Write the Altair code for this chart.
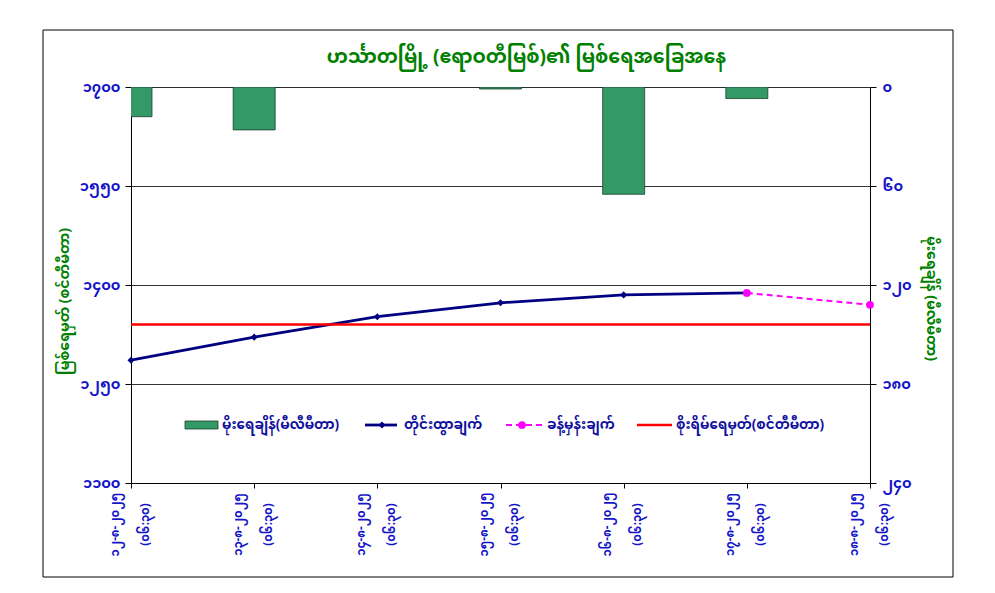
import altair as alt
import pandas as pd

# ---------------- data ----------------
dates = ["၁၂-၈-၂၀၂၅", "၁၃-၈-၂၀၂၅", "၁၄-၈-၂၀၂၅", "၁၅-၈-၂၀၂၅",
         "၁၆-၈-၂၀၂၅", "၁၇-၈-၂၀၂၅", "၁၈-၈-၂၀၂၅"]
time_label = "(၀၆:၃၀)"
x_labels = [d + "|" + time_label for d in dates]

rain_mm = [18, 26, 0, 1.2, 65, 7, None]
level_cm = [1286, 1321, 1352, 1373, 1385, 1388, None]
forecast_cm = [None, None, None, None, None, 1388, 1370]
danger_cm = 1340

left_ticks = [1100, 1250, 1400, 1550, 1700]
left_tick_text = ["၁၁၀၀", "၁၂၅၀", "၁၄၀၀", "၁၅၅၀", "၁၇၀၀"]
right_ticks = [0, 60, 120, 180, 240]
right_tick_text = ["၀", "၆၀", "၁၂၀", "၁၈၀", "၂၄၀"]

title_text = "ဟင်္သာတမြို့ (ဧရာဝတီမြစ်)၏ မြစ်ရေအခြေအနေ"
left_title = "မြစ်ရေမှတ် (စင်တီမီတာ)"
right_title = "မိုးရေချိန် (မီလီမီတာ)"
legend_names = ["မိုးရေချိန်(မီလီမီတာ)", "တိုင်းထွာချက်", "ခန့်မှန်းချက်",
                "စိုးရိမ်ရေမှတ်(စင်တီမီတာ)"]

# ---------------- styling ----------------
FONT = "Noto Sans Myanmar, Padauk, Myanmar Text, Noto Sans, sans-serif"
BLUE = "#1414C8"
LEGEND_BLUE = "#10109E"
GREEN = "#008000"
BAR_GREEN = "#339966"
NAVY = "#000080"
MAGENTA = "#FF00FF"
RED = "#FF0000"


def tick_expr(values, texts):
    expr = "''"
    for v, t in reversed(list(zip(values, texts))):
        expr = f"datum.value == {v} ? '{t}' : ({expr})"
    return expr


df = pd.DataFrame({
    "label": x_labels,
    "rain": rain_mm,
    "level": level_cm,
    "forecast": forecast_cm,
})
danger_df = pd.DataFrame({"danger": [danger_cm]})

x_enc = alt.X(
    "label:N",
    sort=x_labels,
    scale=alt.Scale(type="point", domain=x_labels, padding=0),
    axis=alt.Axis(
        title=None,
        labelExpr="split(datum.label, '|')",
        labelAngle=-90,
        labelAlign="center",
        labelBaseline="middle",
        labelLineHeight=30,
        labelOffset=-16,
        labelPadding=36,
        labelColor=BLUE,
        labelFont=FONT,
        labelFontSize=11.5,
        labelFontWeight="bold",
        labelOverlap=False,
        labelBound=False,
        tickColor="black",
        tickSize=5,
        domainColor="black",
        grid=False,
    ),
)

left_scale = alt.Scale(domain=[1100, 1700], nice=False, zero=False)
left_axis = alt.Axis(
    orient="left",
    values=left_ticks,
    labelExpr=tick_expr(left_ticks, left_tick_text),
    labelColor=BLUE,
    labelFont=FONT,
    labelFontSize=14.5,
    labelFontWeight="bold",
    labelPadding=5,
    tickColor="black",
    tickSize=6,
    domainColor="black",
    grid=True,
    gridColor="black",
    gridWidth=0.8,
    title=left_title,
    titleColor=GREEN,
    titleFont=FONT,
    titleFontSize=14,
    titleFontWeight="bold",
    titlePadding=8,
    titleY=214,
)

right_axis = alt.Axis(
    orient="right",
    values=right_ticks,
    labelExpr=tick_expr(right_ticks, right_tick_text),
    labelColor=BLUE,
    labelFont=FONT,
    labelFontSize=14.5,
    labelFontWeight="bold",
    labelPadding=6,
    tickColor="black",
    tickSize=6,
    domainColor="black",
    grid=False,
    title=right_title,
    titleAngle=90,
    titleColor=GREEN,
    titleFont=FONT,
    titleFontSize=14,
    titleFontWeight="bold",
    titlePadding=12,
    titleY=211,
)

bars = alt.Chart(df).transform_filter("datum.rain > 0").mark_bar(
    size=42, color=BAR_GREEN, stroke="#1C3F2C", strokeWidth=0.8, clip=True
).encode(
    x=x_enc,
    y=alt.Y("rain:Q", scale=alt.Scale(domain=[0, 240], reverse=True, nice=False),
            axis=right_axis),
)

line = alt.Chart(df).transform_filter("isValid(datum.level)").mark_line(
    color=NAVY, strokeWidth=2.8,
    point=alt.OverlayMarkDef(shape="diamond", size=50, color=NAVY, filled=True),
).encode(
    x=x_enc,
    y=alt.Y("level:Q", scale=left_scale, axis=left_axis),
)

forecast = alt.Chart(df).transform_filter("isValid(datum.forecast)").mark_line(
    color=MAGENTA, strokeWidth=2, strokeDash=[6, 4],
    point=alt.OverlayMarkDef(shape="circle", size=60, color=MAGENTA, filled=True, opacity=1),
).encode(
    x=x_enc,
    y=alt.Y("forecast:Q", scale=left_scale, axis=left_axis),
)

danger = alt.Chart(danger_df).mark_rule(color=RED, strokeWidth=2.5).encode(
    y=alt.Y("danger:Q", scale=left_scale, axis=left_axis),
)

levels = alt.layer(line, forecast, danger)

# ---------------- manual legend ----------------
one = pd.DataFrame({"k": [0]})
LY = 338
leg_rect = alt.Chart(one).mark_rect(color=BAR_GREEN, stroke="#1C3F2C", strokeWidth=0.8).encode(
    x=alt.value(54), x2=alt.value(87), y=alt.value(LY - 4), y2=alt.value(LY + 4))
leg_navy = alt.Chart(one).mark_rule(color=NAVY, strokeWidth=2.8).encode(
    x=alt.value(234), x2=alt.value(266), y=alt.value(LY))
leg_navy_pt = alt.Chart(one).mark_point(shape="diamond", size=50, color=NAVY, filled=True, opacity=1).encode(
    x=alt.value(251), y=alt.value(LY))
leg_mag = alt.Chart(one).mark_rule(color=MAGENTA, strokeWidth=2, strokeDash=[6, 4]).encode(
    x=alt.value(375), x2=alt.value(411), y=alt.value(LY))
leg_mag_pt = alt.Chart(one).mark_point(shape="circle", size=60, color=MAGENTA, filled=True, opacity=1).encode(
    x=alt.value(391), y=alt.value(LY))
leg_red = alt.Chart(one).mark_rule(color=RED, strokeWidth=2.5).encode(
    x=alt.value(506), x2=alt.value(541), y=alt.value(LY))

text_x = [91, 273, 416, 545]
leg_texts = [
    alt.Chart(one).mark_text(
        align="left", baseline="middle", font=FONT, fontSize=13.5,
        fontWeight="bold", color=LEGEND_BLUE,
    ).encode(x=alt.value(tx), y=alt.value(LY), text=alt.value(name))
    for tx, name in zip(text_x, legend_names)
]

border = alt.Chart(one).mark_rect(fillOpacity=0, stroke="black", strokeWidth=1).encode(
    x=alt.value(-88), x2=alt.value(822), y=alt.value(-57), y2=alt.value(490))

chart = alt.layer(
    bars, levels, leg_rect, leg_navy, leg_navy_pt, leg_mag, leg_mag_pt, leg_red,
    *leg_texts, border
).resolve_scale(y="independent").properties(
    width=739,
    height=396,
    title=alt.TitleParams(
        title_text, font=FONT, fontSize=19, fontWeight="bold", color=GREEN,
        anchor="middle", dx=26, offset=-37,
    ),
    autosize=alt.AutoSizeParams(type="none"),
    padding={"left": 123, "top": 79, "right": 110, "bottom": 100},
).configure_view(
    fill="#CCFFFF", stroke="transparent"
).configure(background="white")

chart.save("out.html", embed_options={"renderer": "svg", "actions": False})
